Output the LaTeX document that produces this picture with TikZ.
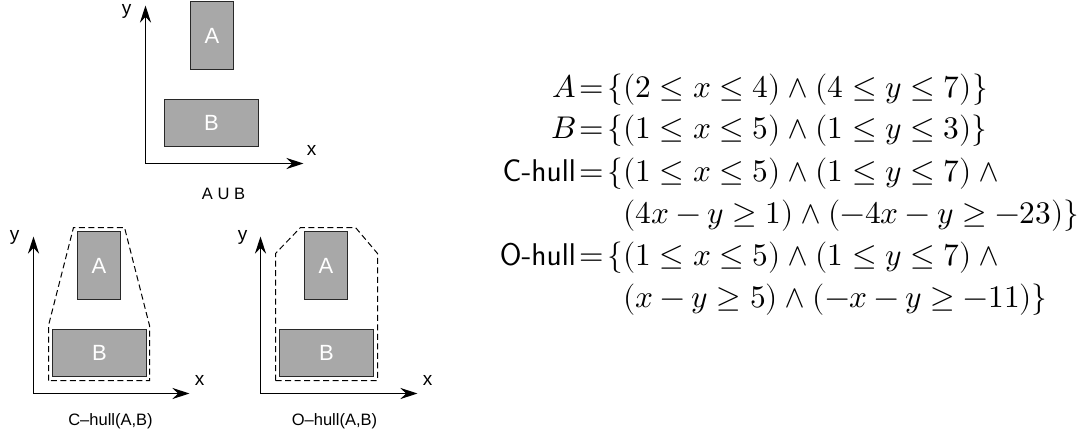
\documentclass[tikz,border=0pt]{standalone}
\usepackage{fontspec}
\usepackage{unicode-math}
\setmathfont{Latin Modern Math}
\newfontfamily\arial{Liberation Sans}
\usetikzlibrary{arrows.meta}
\definecolor{boxgray}{RGB}{168,168,168}
\definecolor{boxline}{RGB}{40,40,40}
\begin{document}
\begin{tikzpicture}[x=1pt,y=-1pt,
  axis/.style={line width=1.1pt,-{Stealth[length=17pt,width=11pt]}},
  abox/.style={draw=boxline,fill=boxgray,line width=1pt,text=white,inner sep=0pt,
    font=\arial\fontsize{22}{26}\selectfont},
  hull/.style={draw=black,line width=1pt,dash pattern=on 6pt off 3.5pt},
  axlabel/.style={inner sep=0pt,font=\arial\fontsize{19}{22}\selectfont},
  caption/.style={inner sep=0pt,font=\arial\fontsize{16.5}{19}\selectfont},
  eq/.style={inner sep=0pt,font=\fontsize{31.4}{38}\selectfont}]
\path[use as bounding box] (0,0) rectangle (1077,436);

% ---------- top diagram: A U B ----------
\begin{scope}[shift={(145.5,163.5)}]
  \coordinate (o1) at (0,0);
  \coordinate (yt1) at (0,-158);
  \coordinate (xt1) at (158,0);
  \draw[axis] (o1) -- (yt1);
  \draw[axis] (o1) -- (xt1);
  \node[axlabel] (ylab1) at (-19,-152) {y};
  \node[axlabel] (xlab1) at (166,-13) {x};
  \node[abox,minimum width=43pt,minimum height=68pt] (A1) at (66.5,-128) {A};
  \node[abox,minimum width=94pt,minimum height=47pt] (B1) at (66,-40.5) {B};
  \node[caption] (cap1) at (78,30) {A U B};
\end{scope}

% ---------- bottom left: C-hull ----------
\begin{scope}[shift={(33.5,393.5)}]
  \coordinate (o2) at (0,0);
  \coordinate (yt2) at (0,-157);
  \coordinate (xt2) at (156,0);
  \draw[axis] (o2) -- (yt2);
  \draw[axis] (o2) -- (xt2);
  \node[axlabel] (ylab2) at (-19,-156) {y};
  \node[axlabel] (xlab2) at (166,-13) {x};
  \node[abox,minimum width=43pt,minimum height=68pt] (A2) at (65.5,-128) {A};
  \node[abox,minimum width=94pt,minimum height=47pt] (B2) at (66,-40.5) {B};
  \draw[hull] (15,-13) -- (15,-68) -- (40,-166) -- (91,-166) -- (116,-68) -- (116,-13) -- cycle;
  \node[caption] (cap2) at (77,28) {C–hull(A,B)};
\end{scope}

% ---------- bottom right: O-hull ----------
\begin{scope}[shift={(260.5,393.5)}]
  \coordinate (o3) at (0,0);
  \coordinate (yt3) at (0,-157);
  \coordinate (xt3) at (157,0);
  \draw[axis] (o3) -- (yt3);
  \draw[axis] (o3) -- (xt3);
  \node[axlabel] (ylab3) at (-18,-156) {y};
  \node[axlabel] (xlab3) at (167,-13) {x};
  \node[abox,minimum width=43pt,minimum height=68pt] (A3) at (65.5,-128) {A};
  \node[abox,minimum width=94pt,minimum height=47pt] (B3) at (66,-40.5) {B};
  \draw[hull] (15,-13) -- (15,-140) -- (40,-166) -- (95,-166) -- (117,-140) -- (117,-13) -- cycle;
  \node[caption] (cap3) at (74,28) {O–hull(A,B)};
\end{scope}

% ---------- equations ----------
\def\ax{576}
\def\eqs{\mkern2mu{=}\mkern2mu\{}
\node[eq,anchor=base east] (l1) at (\ax,98) {$A$};
\node[eq,anchor=base west] (r1) at (\ax,98) {$\eqs(2\le x\le 4)\wedge(4\le y\le 7)\}$};
\node[eq,anchor=base east] (l2) at (\ax,139) {$B$};
\node[eq,anchor=base west] (r2) at (\ax,139) {$\eqs(1\le x\le 5)\wedge(1\le y\le 3)\}$};
\node[eq,anchor=base east] (l3) at (\ax,181) {\textsf{C-hull}};
\node[eq,anchor=base west] (r3) at (\ax,181) {$\eqs(1\le x\le 5)\wedge(1\le y\le 7)\wedge{}$};
\node[eq,anchor=base west] (r4) at (\ax,223) {$\phantom{\eqs}(4x-y\ge 1)\wedge(-4x-y\ge -23)\}$};
\node[eq,anchor=base east] (l5) at (\ax,265) {\textsf{O-hull}};
\node[eq,anchor=base west] (r5) at (\ax,265) {$\eqs(1\le x\le 5)\wedge(1\le y\le 7)\wedge{}$};
\node[eq,anchor=base west] (r6) at (\ax,307) {$\phantom{\eqs}(x-y\ge 5)\wedge(-x-y\ge -11)\}$};
\end{tikzpicture}
\end{document}
